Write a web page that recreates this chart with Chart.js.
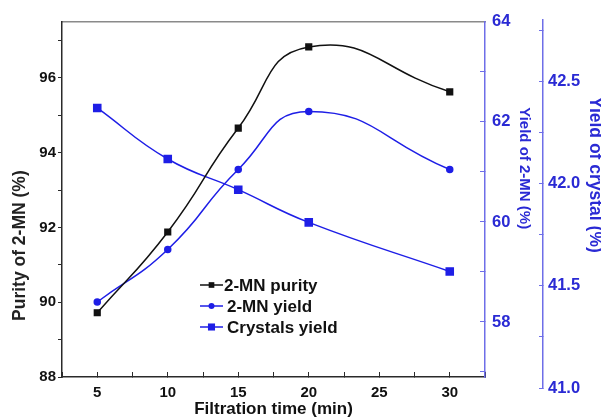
<!DOCTYPE html>
<html><head><meta charset="utf-8">
<script src="https://cdn.jsdelivr.net/npm/chart.js@4/dist/chart.umd.min.js"></script>
<style>html,body{margin:0;padding:0;background:#fff}</style>
</head><body>
<canvas id="c" width="601" height="420" style="width:601px;height:420px;display:block"></canvas>
<script>
// ---- data ----
const filtrationTime = [5, 10, 15, 20, 30];
const purity = [89.72, 91.88, 94.66, 96.83, 95.63];
const mnYield = [58.4, 59.45, 61.05, 62.21, 61.05];
const crystalYield = [42.37, 42.12, 41.97, 41.81, 41.57];
const seriesLabels = ['2-MN purity', '2-MN yield', 'Crystals yield'];
const xTickLabels = [5, 10, 15, 20, 25, 30];
const purityTickLabels = [88, 90, 92, 94, 96];
const mnYieldTickLabels = [58, 60, 62, 64];
const crystalTickLabels = [41.0, 41.5, 42.0, 42.5];

const FONT = '"Liberation Sans", Arial, sans-serif';
Chart.defaults.font.family = FONT;
const BLUE = 'rgb(30,30,230)';
const AXBLUE = '#6e6ee8';
const TXBLUE = '#2a2ad4';
const DARK = '#2a2a2a';

const pts = (ys) => filtrationTime.map((x, i) => ({x, y: ys[i]}));
const has = (arr, v) => arr.some(a => Math.abs(a - v) < 1e-6);

const fixAxis = {
  id: 'fixAxis',
  afterLayout(chart) {
    const s = chart.scales.y2;
    s.top = 20; s.bottom = 388; s.height = s.bottom - s.top;
    s.configure();
  }
};

const innerLegend = {
  id: 'innerLegend',
  afterDraw(chart) {
    const ctx = chart.ctx;
    ctx.save();
    chart.data.datasets.forEach((ds, i) => {
      const y = 285 + i * 21;
      ctx.strokeStyle = ds.borderColor;
      ctx.lineWidth = 1.5;
      ctx.beginPath(); ctx.moveTo(200, y); ctx.lineTo(223, y); ctx.stroke();
      ctx.fillStyle = ds.pointBackgroundColor;
      const r = ds.pointRadius;
      if (ds.pointStyle === 'rect') {
        const h = r * Math.SQRT1_2;
        ctx.fillRect(211.5 - h, y - h, 2 * h, 2 * h);
      } else {
        ctx.beginPath(); ctx.arc(211.5, y, r, 0, Math.PI * 2); ctx.fill();
      }
      ctx.fillStyle = '#111';
      ctx.font = 'bold 17px ' + FONT;
      ctx.textBaseline = 'middle';
      ctx.textAlign = 'left';
      ctx.fillText(ds.label, i === 0 ? 224 : 227, y + 1);
    });
    ctx.restore();
  }
};

new Chart(document.getElementById('c'), {
  type: 'line',
  data: {
    datasets: [
      {label: seriesLabels[0], data: pts(purity), yAxisID: 'y', borderColor: '#111', backgroundColor: '#111',
       pointBackgroundColor: '#111', pointBorderColor: '#111', pointStyle: 'rect', pointRadius: 4, borderWidth: 1.5, tension: 0.5},
      {label: seriesLabels[1], data: pts(mnYield), yAxisID: 'y1', borderColor: BLUE, backgroundColor: BLUE,
       pointBackgroundColor: BLUE, pointBorderColor: BLUE, pointStyle: 'circle', pointRadius: 3, borderWidth: 1.5, tension: 0.5},
      {label: seriesLabels[2], data: pts(crystalYield), yAxisID: 'y2', borderColor: BLUE, backgroundColor: BLUE,
       pointBackgroundColor: BLUE, pointBorderColor: BLUE, pointStyle: 'rect', pointRadius: 5, borderWidth: 1.5, tension: 0.45}
    ]
  },
  options: {
    responsive: false, animation: false, devicePixelRatio: 1,
    layout: {padding: 0},
    plugins: {legend: {display: false}, tooltip: {enabled: false}},
    scales: {
      x: {
        type: 'linear', position: 'bottom', min: 2.5, max: 32.5,
        afterBuildTicks: (s) => { s.ticks = []; for (let v = 2.5; v <= 32.5 + 1e-9; v += 2.5) s.ticks.push({value: v}); },
        ticks: {font: {size: 15, weight: 'bold'}, color: '#111', padding: 12, maxRotation: 0, autoSkip: false,
                callback: (v) => has(xTickLabels, v) ? String(v) : ''},
        grid: {drawOnChartArea: false, drawTicks: true, tickLength: -5, color: DARK, lineWidth: 1},
        border: {color: DARK, width: 1.5},
        title: {display: true, text: 'Filtration time (min)', font: {size: 17, weight: 'bold'}, color: '#111', padding: {top: 0, bottom: 0}},
        afterFit: (s) => { s.height = 43; }
      },
      xTop: {
        type: 'linear', position: 'top', min: 2.5, max: 32.5,
        ticks: {display: false}, grid: {display: false, drawTicks: false},
        border: {color: '#8a8a8a', width: 1.5},
        afterFit: (s) => { s.height = 21; }
      },
      y: {
        type: 'linear', position: 'left', min: 88, max: 97.5,
        afterBuildTicks: (s) => { s.ticks = []; for (let v = 88; v <= 97; v++) s.ticks.push({value: v}); },
        ticks: {font: {size: 15, weight: 'bold'}, color: '#111', padding: 2, autoSkip: false,
                callback: (v) => has(purityTickLabels, v) ? String(v) : ''},
        grid: {drawOnChartArea: false, drawTicks: true, tickLength: 4, color: DARK},
        border: {color: DARK, width: 1.5},
        title: {display: true, text: 'Purity of 2-MN (%)' + ' '.repeat(19), font: {size: 17.5, weight: 'bold'}, color: '#222', padding: {top: 9.5, bottom: 0}},
        afterFit: (s) => { s.width = 62; }
      },
      y1: {
        type: 'linear', position: 'right', min: 56.9, max: 64, weight: 0,
        afterBuildTicks: (s) => { s.ticks = []; for (let v = 57; v <= 64; v++) s.ticks.push({value: v}); },
        ticks: {font: {size: 16.5, weight: 'bold'}, color: TXBLUE, padding: 12, autoSkip: false,
                callback: (v) => has(mnYieldTickLabels, v) ? String(v) : ''},
        grid: {drawOnChartArea: false, drawTicks: true, tickLength: -5, color: AXBLUE},
        border: {color: AXBLUE, width: 1.5},
        title: {display: true, text: 'Yield of 2-MN (%)' + ' '.repeat(15), font: {size: 15, weight: 'bold'}, color: TXBLUE, padding: {top: 10, bottom: 0}},
        afterFit: (s) => { s.width = 58; }
      },
      y2: {
        type: 'linear', position: 'right', min: 41.0, max: 42.8, weight: 1,
        afterBuildTicks: (s) => { s.ticks = []; for (let v = 41.0; v <= 42.8 + 1e-9; v += 0.25) s.ticks.push({value: Math.round(v * 100) / 100}); },
        ticks: {font: {size: 16.5, weight: 'bold'}, color: TXBLUE, padding: 9, autoSkip: false,
                callback: (v) => has(crystalTickLabels, v) ? Number(v).toFixed(1) : ''},
        grid: {drawOnChartArea: false, drawTicks: true, tickLength: -4, color: AXBLUE},
        border: {color: AXBLUE, width: 1.5},
        title: {display: true, text: 'Yield of crystal (%)' + ' '.repeat(12), font: {size: 17.5, weight: 'bold'}, color: TXBLUE, padding: {top: -4.5, bottom: 0}},
        afterFit: (s) => { s.width = 58; }
      }
    }
  },
  plugins: [fixAxis, innerLegend]
});
</script>
</body></html>
